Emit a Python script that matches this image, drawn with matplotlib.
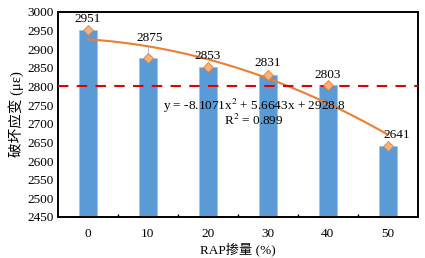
import numpy as np
import matplotlib.pyplot as plt

plt.rcParams['font.family'] = ['Liberation Serif', 'Noto Sans CJK SC']
plt.rcParams['mathtext.fontset'] = 'stix'

rap = ['0', '10', '20', '30', '40', '50']
strain = [2951, 2875, 2853, 2831, 2803, 2641]
limit = 2800
coef = [-8.1071, 5.6643, 2928.8]

# label offsets (points) from each marker
label_dy = [8, 15, 8, 8.5, 7.5, 8]
label_dx = [0, 1.5, 0, 0, 0, 6.5]

fs = 9.5

fig = plt.figure(figsize=(4.25, 2.58), dpi=100)
ax = fig.add_axes([0.136, 0.159, 0.847, 0.795])

x = np.arange(len(rap))
ax.bar(x, strain, width=0.3, color='#5B9BD5', edgecolor='#9DC3E6', linewidth=0.6, zorder=2)

xs = np.linspace(1, 6, 100)
ax.plot(xs - 1, np.polyval(coef, xs), color='#ED7D31', lw=1.5, zorder=3)
ax.plot(x, strain, ls='none', marker='D', ms=5.5, mfc='#F4B183', mec='#ED7D31', mew=0.6, zorder=4)
ax.axhline(limit, color='#E00000', ls=(0, (5, 4)), lw=1.5, zorder=3)

ax.plot([1, 1], [2875, 2906], color='#BFBFBF', lw=0.8, zorder=1)

for i, v in enumerate(strain):
    ax.annotate(str(v), (i, v), xytext=(label_dx[i], label_dy[i]), textcoords='offset points',
                ha='center', va='center', fontsize=fs, zorder=5)

ax.text(2.77, 2749, 'y = -8.1071x$^2$ + 5.6643x + 2928.8', ha='center', va='center', fontsize=fs)
ax.text(2.77, 2708, 'R$^2$ = 0.899', ha='center', va='center', fontsize=fs)

ax.set_xlim(-0.5, 5.5)
ax.set_ylim(2450, 3000)
ax.set_yticks(np.arange(2450, 3001, 50))
ax.set_xticks(x)
ax.set_xticklabels(rap)
ax.set_xticks(np.arange(0.5, 5, 1), minor=True)
ax.tick_params(axis='x', which='major', length=0, labelsize=fs, pad=8)
ax.tick_params(axis='x', which='minor', direction='in', length=2, width=1)
ax.tick_params(axis='y', direction='out', length=0, labelsize=fs, pad=3)
for s in ax.spines.values():
    s.set_linewidth(1.4)

ax.set_xlabel('RAP掺量 (%)', fontsize=fs, labelpad=2)
ax.set_ylabel('破坏应变 (με)', fontsize=10.5, labelpad=2)

fig.savefig('out.png', dpi=100)
